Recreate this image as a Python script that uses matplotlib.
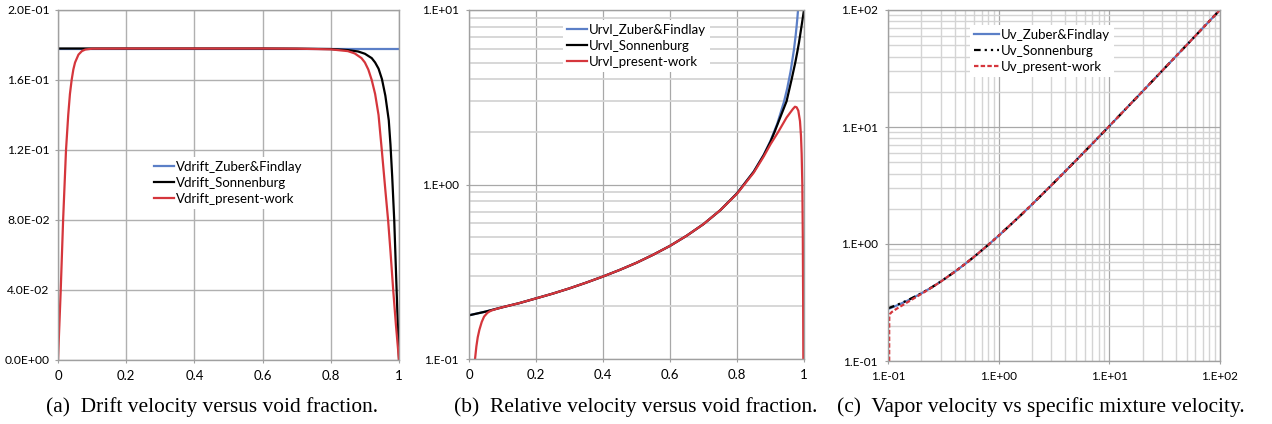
import matplotlib
matplotlib.use("Agg")
import matplotlib.pyplot as plt
from matplotlib.ticker import FixedLocator, FuncFormatter, LogLocator, NullFormatter

# ---- data ----
# (a) drift velocity vs void fraction
alpha_a_zf = [0.0, 1.0]
vd_zf = [0.178, 0.178]

alpha_a_sonn = [0, 0.1, 0.2, 0.3, 0.4, 0.5, 0.6, 0.7, 0.8, 0.85, 0.88, 0.9, 0.92, 0.93,
                0.94, 0.95, 0.96, 0.97, 0.975, 0.98, 0.986, 0.993, 1.0]
vd_sonn = [0.178, 0.178, 0.178, 0.178, 0.178, 0.178, 0.178, 0.1779, 0.1777, 0.1771, 0.1763,
           0.1750, 0.1725, 0.1700, 0.1665, 0.1605, 0.151, 0.137, 0.123, 0.105, 0.080, 0.040, 0.0]

alpha_a_pw = [0, 0.004, 0.008, 0.015, 0.0235, 0.03, 0.035, 0.04, 0.045, 0.05, 0.06, 0.07,
              0.08, 0.1, 0.2, 0.3, 0.4, 0.5, 0.6, 0.7, 0.8, 0.85, 0.87, 0.89, 0.90, 0.91,
              0.92, 0.93, 0.94, 0.95, 0.96, 0.968, 0.975, 0.983, 0.991, 1.0]
vd_pw = [0, 0.020, 0.040, 0.080, 0.120, 0.140, 0.152, 0.160, 0.166, 0.170, 0.1745, 0.1765,
         0.1774, 0.1779, 0.178, 0.178, 0.178, 0.178, 0.178, 0.1779, 0.1775, 0.1765, 0.1752,
         0.1725, 0.1700, 0.1660, 0.1600, 0.1520, 0.1400, 0.1190, 0.0970, 0.0800, 0.0620,
         0.0400, 0.0200, 0.0]

# (b) relative velocity vs void fraction
alpha_b_zf = [0, 0.05, 0.1, 0.15, 0.2, 0.25, 0.3, 0.35, 0.4, 0.45, 0.5, 0.55, 0.6, 0.65,
              0.7, 0.75, 0.8, 0.85, 0.88, 0.9, 0.92, 0.94, 0.95, 0.96, 0.97, 0.975, 0.978,
              0.98, 0.982, 0.983]
urvl_zf = [0.178, 0.187, 0.198, 0.209, 0.2225, 0.237, 0.254, 0.274, 0.297, 0.324, 0.356,
           0.396, 0.445, 0.509, 0.593, 0.712, 0.89, 1.187, 1.483, 1.78, 2.225, 2.967, 3.56,
           4.45, 5.93, 7.12, 8.09, 8.9, 9.89, 10.47]

alpha_b_sonn = [0, 0.05, 0.1, 0.15, 0.2, 0.25, 0.3, 0.35, 0.4, 0.45, 0.5, 0.55, 0.6, 0.65,
                0.7, 0.75, 0.8, 0.85, 0.88, 0.9, 0.912, 0.93, 0.948, 0.963, 0.974, 0.98,
                0.985, 0.99, 0.995, 1.0]
urvl_sonn = [0.178, 0.187, 0.198, 0.209, 0.2225, 0.237, 0.254, 0.274, 0.297, 0.324, 0.356,
             0.396, 0.445, 0.509, 0.593, 0.712, 0.889, 1.183, 1.475, 1.76, 2.0, 2.45, 3.0,
             4.0, 5.0, 5.75, 6.5, 7.5, 8.65, 10.0]

alpha_b_pw = [0.018, 0.022, 0.026, 0.031, 0.038, 0.045, 0.055, 0.065, 0.083, 0.1, 0.15,
              0.2, 0.25, 0.3, 0.35, 0.4, 0.45, 0.5, 0.55, 0.6, 0.65, 0.7, 0.75, 0.8, 0.85,
              0.88, 0.9, 0.923, 0.948, 0.96, 0.967, 0.973, 0.978, 0.983, 0.988, 0.991,
              0.993, 0.995, 0.9965, 0.9975, 0.998]
urvl_pw = [0.100, 0.118, 0.133, 0.147, 0.163, 0.175, 0.184, 0.189, 0.194, 0.198, 0.209,
           0.2225, 0.237, 0.254, 0.274, 0.297, 0.324, 0.356, 0.396, 0.445, 0.509, 0.593,
           0.712, 0.885, 1.17, 1.45, 1.70, 2.0, 2.42, 2.60, 2.71, 2.79, 2.77, 2.65, 2.31,
           1.9, 1.5, 1.0, 0.5, 0.2, 0.1]

# (c) vapor velocity vs mixture velocity
j_zf = [0.1, 0.12, 0.15, 0.2, 0.25, 0.3, 0.4, 0.5, 0.6, 0.8, 1.0, 1.5, 2.0, 3.0, 5.0, 7.0,
        10.0, 20.0, 50.0, 100.0]
uv_zf = [0.278, 0.298, 0.328, 0.378, 0.428, 0.478, 0.578, 0.678, 0.778, 0.978, 1.178, 1.678,
         2.178, 3.18, 5.18, 7.18, 10.18, 20.2, 50.2, 100.2]
j_sonn = [0.1, 0.12, 0.15, 0.2, 0.25, 0.3, 0.4, 0.5, 0.6, 0.8, 1.0, 1.5, 2.0, 3.0, 5.0, 7.0,
          10.0, 20.0, 50.0, 100.0]
uv_sonn = [0.282, 0.301, 0.330, 0.379, 0.428, 0.478, 0.578, 0.678, 0.778, 0.978, 1.178, 1.678,
           2.178, 3.18, 5.18, 7.18, 10.18, 20.2, 50.2, 100.2]
j_pw = [0.1025, 0.1025, 0.1026, 0.1028, 0.104, 0.108, 0.12, 0.15, 0.2, 0.25, 0.3, 0.4, 0.5,
        0.6, 0.8, 1.0, 1.5, 2.0, 3.0, 5.0, 7.0, 10.0, 20.0, 50.0, 100.0]
uv_pw = [0.100, 0.180, 0.225, 0.240, 0.252, 0.262, 0.280, 0.318, 0.374, 0.426, 0.477, 0.578,
         0.678, 0.778, 0.978, 1.178, 1.678, 2.178, 3.18, 5.18, 7.18, 10.18, 20.2, 50.2, 100.2]

labels_a = ["Vdrift_Zuber&Findlay", "Vdrift_Sonnenburg", "Vdrift_present-work"]
labels_b = ["Urvl_Zuber&Findlay", "Urvl_Sonnenburg", "Urvl_present-work"]
labels_c = ["Uv_Zuber&Findlay", "Uv_Sonnenburg", "Uv_present-work"]
captions = ["(a)  Drift velocity versus void fraction.",
            "(b)  Relative velocity versus void fraction.",
            "(c)  Vapor velocity vs specific mixture velocity."]

BLUE = "#5b7fc7"
RED = "#d5363c"
GRID = "#b0b0b0"
MINOR = "#d4d4d4"

plt.rcParams["font.family"] = ["Lato", "DejaVu Sans"]

fig = plt.figure(figsize=(12.72, 4.24), dpi=100)
ax_a = fig.add_axes([58 / 1272, 64 / 424, 341 / 1272, 350 / 424])
ax_b = fig.add_axes([469 / 1272, 65 / 424, 335 / 1272, 349 / 424])
ax_c = fig.add_axes([888 / 1272, 63 / 424, 332 / 1272, 351 / 424])


def style(ax, size=9.5):
    for s in ax.spines.values():
        s.set_color("#a0a0a0")
        s.set_linewidth(1.0)
    ax.tick_params(which="major", length=2.5, color="#a0a0a0", labelsize=size, pad=5)
    ax.tick_params(which="minor", length=0)
    ax.set_axisbelow(True)


def legend(ax, anchor, hl=1.5):
    lg = ax.legend(loc="upper left", bbox_to_anchor=anchor, frameon=True, fancybox=False,
                   fontsize=9.5, handlelength=hl, handletextpad=0.15, labelspacing=0.3,
                   borderpad=0.3, borderaxespad=0)
    lg.get_frame().set_facecolor("white")
    lg.get_frame().set_edgecolor("none")
    lg.get_frame().set_alpha(1.0)


xfmt = FuncFormatter(lambda v, p: f"{v:g}")
efmt = FuncFormatter(lambda v, p: f"{v:#.0E}")

# ---- (a) ----
ax = ax_a
ax.plot(alpha_a_zf, vd_zf, color=BLUE, lw=1.6, label=labels_a[0])
ax.plot(alpha_a_sonn, vd_sonn, color="black", lw=1.6, label=labels_a[1])
ax.plot(alpha_a_pw, vd_pw, color=RED, lw=1.6, label=labels_a[2])
ax.set_xlim(0, 1)
ax.set_ylim(0, 0.2)
ax.xaxis.set_major_locator(FixedLocator([0, 0.2, 0.4, 0.6, 0.8, 1.0]))
ax.yaxis.set_major_locator(FixedLocator([0, 0.04, 0.08, 0.12, 0.16, 0.2]))
ax.xaxis.set_major_formatter(xfmt)
ax.yaxis.set_major_formatter(FuncFormatter(lambda v, p: f"{v:.1E}"))
ax.grid(True, color=GRID, lw=1.0)
style(ax, 9.5)
ax.tick_params(axis="y", labelsize=8.7, pad=3.5)
legend(ax, (0.27, 0.58))

# ---- (b) ----
ax = ax_b
ax.plot(alpha_b_zf, urvl_zf, color=BLUE, lw=1.6, label=labels_b[0])
ax.plot(alpha_b_sonn, urvl_sonn, color="black", lw=1.6, label=labels_b[1])
ax.plot(alpha_b_pw, urvl_pw, color=RED, lw=1.6, label=labels_b[2])
ax.set_yscale("log")
ax.set_xlim(0, 1)
ax.set_ylim(0.1, 10)
ax.xaxis.set_major_locator(FixedLocator([0, 0.2, 0.4, 0.6, 0.8, 1.0]))
ax.xaxis.set_major_formatter(xfmt)
ax.yaxis.set_major_locator(FixedLocator([0.1, 1, 10]))
ax.yaxis.set_major_formatter(efmt)
ax.yaxis.set_minor_locator(LogLocator(base=10, subs=range(2, 10)))
ax.yaxis.set_minor_formatter(NullFormatter())
ax.grid(True, which="major", color="#a8a8a8", lw=0.9)
ax.grid(True, which="minor", axis="y", color=MINOR, lw=1.3)
style(ax, 8.5)
ax.tick_params(axis="x", labelsize=9.5)
legend(ax, (0.28, 0.972))

# ---- (c) ----
ax = ax_c
ax.plot(j_zf, uv_zf, color=BLUE, lw=1.6, label=labels_c[0])
ax.plot(j_sonn, uv_sonn, color="black", lw=1.6, dashes=(3, 1.8, 1, 1.8, 1, 1.8),
        label=labels_c[1])
ax.plot(j_pw, uv_pw, color=RED, lw=1.6, dashes=(2, 1), label=labels_c[2])
ax.set_xscale("log")
ax.set_yscale("log")
ax.set_xlim(0.1, 100)
ax.set_ylim(0.1, 100)
for axis in (ax.xaxis, ax.yaxis):
    axis.set_major_locator(FixedLocator([0.1, 1, 10, 100]))
    axis.set_major_formatter(efmt)
    axis.set_minor_locator(LogLocator(base=10, subs=range(2, 10)))
    axis.set_minor_formatter(NullFormatter())
ax.grid(True, which="major", color="#a8a8a8", lw=0.9)
ax.grid(True, which="minor", color=MINOR, lw=1.0)
style(ax, 8.5)
legend(ax, (0.247, 0.957), hl=1.9)

# ---- captions ----
for cx, txt in zip([212, 636, 1041], captions):
    fig.text(cx / 1272, 17 / 424, txt, ha="center", va="center",
             family=["Liberation Serif", "DejaVu Serif"], fontsize=15.4)

fig.savefig("out.png", dpi=100)
